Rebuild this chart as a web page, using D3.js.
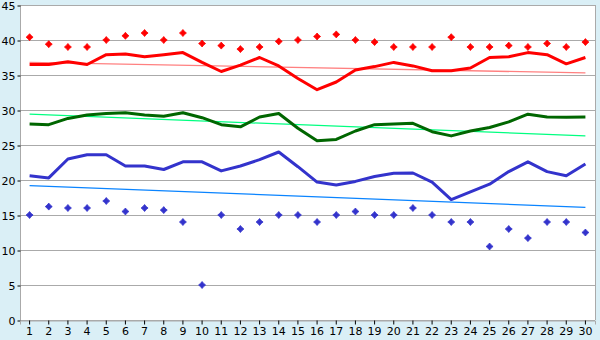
<!DOCTYPE html>
<html><head><meta charset="utf-8">
<script src="https://cdn.jsdelivr.net/npm/d3@7"></script>
<style>html,body{margin:0;padding:0;background:#DAEFF6;}svg{display:block;}</style>
</head><body>
<svg id="c" width="600" height="340"></svg>
<script>
const days = d3.range(1, 31).map(String);
const yTicks = [0, 5, 10, 15, 20, 25, 30, 35, 40, 45];
const maxPts = [40.4,39.4,39.0,39.0,40.0,40.6,41.0,40.0,41.0,39.5,39.2,38.7,39.0,39.8,40.0,40.5,40.8,40.0,39.7,39.0,39.0,39.0,40.4,39.0,39.0,39.2,39.0,39.5,39.0,39.7];
const redLine = [36.5,36.5,36.9,36.5,37.9,38.0,37.6,37.9,38.2,36.8,35.5,36.4,37.5,36.3,34.5,32.9,34.0,35.7,36.2,36.8,36.3,35.6,35.6,36.0,37.5,37.6,38.2,37.9,36.6,37.5];
const greenLine = [28.0,27.9,28.8,29.3,29.5,29.6,29.3,29.1,29.6,28.9,27.9,27.6,29.0,29.5,27.4,25.6,25.8,27.0,27.9,28.0,28.1,26.9,26.3,27.0,27.5,28.3,29.4,29.0,28.95,29.0];
const blueLine = [20.6,20.3,23.0,23.6,23.6,22.0,22.0,21.5,22.6,22.6,21.3,22.0,22.9,24.0,21.9,19.7,19.3,19.8,20.5,20.95,21.0,19.7,17.2,18.3,19.4,21.2,22.6,21.2,20.6,22.3];
const minPts = [15.0,16.2,16.0,16.0,17.0,15.5,16.0,15.7,14.0,5.0,15.0,13.0,14.0,15.0,15.0,14.0,15.0,15.5,15.0,15.0,16.0,15.0,14.0,14.0,10.5,13.0,11.7,14.0,14.0,12.5];
const redTrend = [36.8, 35.3];
const greenTrend = [29.4, 26.3];
const blueTrend = [19.2, 16.1];

const L = 20, R = 595, T = 5, B = 320;
const svg = d3.select("#c");
const x = d3.scaleBand().domain(days).range([L, R]);
const xc = d => x(d) + x.bandwidth() / 2;
const y = d3.scaleLinear().domain([0, 45]).range([B, T]);

svg.append("rect").attr("x", L).attr("y", T).attr("width", R - L).attr("height", B - T).attr("fill", "#fff");

// grid
svg.append("g").selectAll("line").data(yTicks).join("line")
  .attr("x1", L).attr("x2", R).attr("y1", d => Math.round(y(d)) + 0.5).attr("y2", d => Math.round(y(d)) + 0.5)
  .attr("stroke", "#AAAAAA").attr("stroke-width", 1);
svg.append("line").attr("x1", R + 0.5).attr("x2", R + 0.5).attr("y1", T).attr("y2", B).attr("stroke", "#AAAAAA");

// axes
const yAxis = d3.axisLeft(y).tickValues(yTicks).tickSize(3).tickPadding(2);
const gy = svg.append("g").attr("transform", `translate(${L + 0.5},0.5)`).call(yAxis);
const xAxis = d3.axisBottom(x).tickSize(4).tickPadding(3);
const gx = svg.append("g").attr("transform", `translate(0,${B + 0.5})`).call(xAxis);
[gy, gx].forEach(g => {
  g.selectAll("path.domain").attr("stroke", "#AAAAAA");
  g.selectAll(".tick line").attr("stroke", "#000");
  g.selectAll("text").attr("fill", "#000").style("font-family", "DejaVu Sans, Verdana, sans-serif").style("font-size", "11px");
});
gy.select("path.domain").attr("d", `M0,${T}V${B}`);

// trend lines
const trend = (vals, color) => svg.append("line")
  .attr("x1", xc(days[0])).attr("x2", xc(days[days.length - 1]))
  .attr("y1", y(vals[0])).attr("y2", y(vals[1]))
  .attr("stroke", color).attr("stroke-width", 1.3);
trend(redTrend, "#FF8080");
trend(greenTrend, "#00FF80");
trend(blueTrend, "#0A84FF");

// main lines
const line = d3.line().x((d, i) => xc(days[i])).y(d => y(d));
const drawLine = (vals, color) => svg.append("path").datum(vals).attr("d", line)
  .attr("fill", "none").attr("stroke", color).attr("stroke-width", 3).attr("stroke-linejoin", "round");
drawLine(redLine, "#FF0000");
drawLine(greenLine, "#006600");
drawLine(blueLine, "#3333CC");

// markers
const star = "M0,-3.5L1.6,-1.6L3.5,0L1.6,1.6L0,3.5L-1.6,1.6L-3.5,0L-1.6,-1.6Z";
const drawPts = (vals, color) => svg.append("g").selectAll("path").data(vals).join("path")
  .attr("d", star).attr("transform", (d, i) => `translate(${xc(days[i])},${y(d)})`)
  .attr("fill", color).attr("stroke", color).attr("stroke-width", 0.8);
drawPts(maxPts, "#FF0000");
drawPts(minPts, "#3333CC");
</script>
</body></html>
